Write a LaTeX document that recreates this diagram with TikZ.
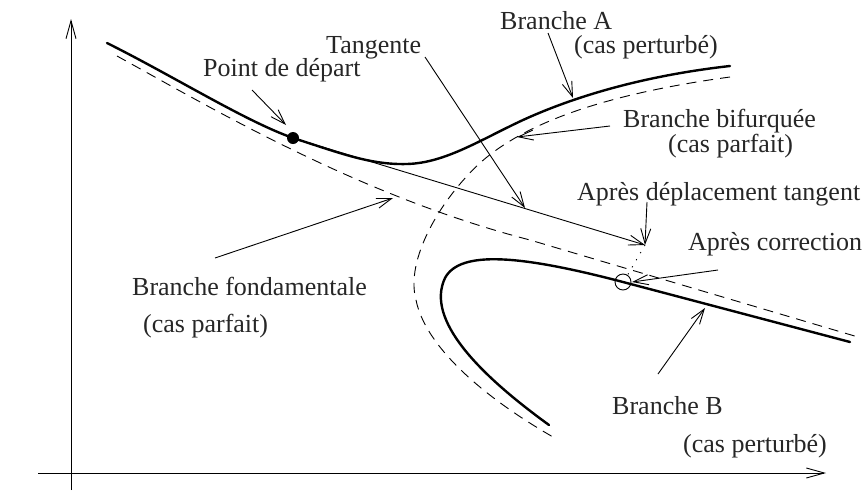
\documentclass[tikz,border=0pt]{standalone}
\usepackage{fontspec}
\setmainfont{Liberation Serif}
\usetikzlibrary{arrows.meta}
\begin{document}
\begin{tikzpicture}[x=1pt,y=-1pt,
  lbl/.style={anchor=base west,inner sep=0pt,font=\fontsize{26}{30}\selectfont,text=black!85},
  thin/.style={line width=0.9pt},
  thick curve/.style={line width=2.4pt,line cap=round},
  dash curve/.style={line width=0.9pt,dash pattern=on 10pt off 7pt},
  arr/.style={thin,-{Straight Barb[length=15pt,width=10pt,line width=0.9pt]}},
  axarr/.style={thin,-{Straight Barb[length=18pt,width=10pt,line width=0.9pt]}}]
\useasboundingbox (0,0) rectangle (864,493);
% axes
\coordinate (yb) at (71,490); \coordinate (yt) at (71,19);
\coordinate (xl) at (38,473); \coordinate (xr) at (826,473);
\draw[axarr] (yb) -- (yt);
\draw[axarr] (xl) -- (xr);
% branche fondamentale (dashed)
\draw[dash curve] (117,56) .. controls (215,110) and (360,196) .. (530,240) -- (858,337);
% branche bifurquee (dashed)
\draw[dash curve] (730,77) .. controls (620,92) and (530,118) .. (480,163)
  .. controls (440,200) and (405,260) .. (416,300)
  .. controls (425,345) and (480,395) .. (553,437);
% branche A (thick)
\draw[thick curve] (107,43) .. controls (175,77) and (245,121) .. (293,138)
  .. controls (340,153) and (370,165) .. (407,164)
  .. controls (445,163) and (480,140) .. (523,120)
  .. controls (580,94) and (650,75) .. (730,66);
% branche B (thick)
\draw[thick curve] (549,425) .. controls (480,375) and (425,320) .. (445,278)
  .. controls (460,250) and (520,255) .. (623,282) -- (850,342);
% points
\coordinate (P0) at (293,138);
\coordinate (P1) at (645,245);
\coordinate (P2) at (623,282);
\fill (P0) circle (6pt);
\draw[thin] (P2) circle (8pt);
% tangent and dotted correction
\draw[arr] (P0) -- (P1);
\draw[thin,dash pattern=on 1.2pt off 7pt] (P1) -- (627,276);
% labels
\node[lbl] (tPD) at (203,76) {Point de départ};
\node[lbl] (tTg) at (326,53) {Tangente};
\node[lbl] (tBA) at (500,29) {Branche A};
\node[lbl] (tBAc) at (574,53) {(cas perturbé)};
\node[lbl] (tBb) at (623,127) {Branche bifurquée};
\node[lbl] (tBbc) at (668,152) {(cas parfait)};
\node[lbl] (tADT) at (577,200) {Après déplacement tangent};
\node[lbl] (tAC) at (688,250) {Après correction};
\node[lbl] (tBF) at (132,295) {Branche fondamentale};
\node[lbl] (tBFc) at (143,332) {(cas parfait)};
\node[lbl] (tBB) at (612,414) {Branche B};
\node[lbl] (tBBc) at (683,452) {(cas perturbé)};
% label arrows
\coordinate (aPD) at (252,90);  \coordinate (ePD) at (286,125);
\coordinate (aTg) at (425,57);  \coordinate (eTg) at (525,208);
\coordinate (aBA) at (548,33);  \coordinate (eBA) at (573,98);
\coordinate (aBb) at (610,126); \coordinate (eBb) at (517,137);
\coordinate (aADT) at (647,202);
\coordinate (aAC) at (718,270); \coordinate (eAC) at (632,282);
\coordinate (aBF) at (215,258); \coordinate (eBF) at (393,198);
\coordinate (aBB) at (658,374); \coordinate (eBB) at (705,308);
\draw[arr] (aPD) -- (ePD);
\draw[arr] (aTg) -- (eTg);
\draw[arr] (aBA) -- (eBA);
\draw[arr] (aBb) -- (eBb);
\draw[arr] (aADT) -- (P1);
\draw[arr] (aAC) -- (eAC);
\draw[arr] (aBF) -- (eBF);
\draw[arr] (aBB) -- (eBB);
\end{tikzpicture}
\end{document}
